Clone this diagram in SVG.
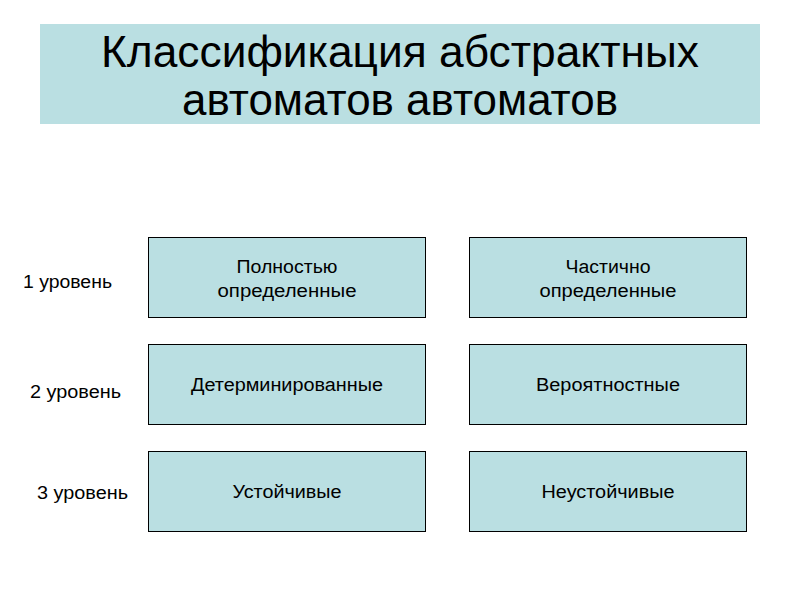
<svg xmlns="http://www.w3.org/2000/svg" width="800" height="600" viewBox="0 0 800 600">
<style>
.box{fill:#badfe2;stroke:#000;stroke-width:1}
.t{font-family:"Liberation Sans",Arial,sans-serif;font-size:18px;fill:#000;text-anchor:middle}
.lvl{font-family:"Liberation Sans",Arial,sans-serif;font-size:18px;fill:#000}
.title{font-family:"Liberation Sans",Arial,sans-serif;font-size:44px;fill:#000;text-anchor:middle}
</style>
<rect x="0" y="0" width="800" height="600" fill="#fff"/>
<g id="title">
<rect x="40" y="24" width="720" height="100" fill="#badfe2"/>
<text class="title" x="400" y="67" textLength="598" lengthAdjust="spacingAndGlyphs">Классификация абстрактных</text>
<text class="title" x="400" y="115" textLength="436" lengthAdjust="spacingAndGlyphs">автоматов автоматов</text>
</g>
<g id="labels">
<text class="lvl" x="23" y="288" textLength="89" lengthAdjust="spacingAndGlyphs">1 уровень</text>
<text class="lvl" x="30" y="398" textLength="91" lengthAdjust="spacingAndGlyphs">2 уровень</text>
<text class="lvl" x="37" y="499" textLength="91" lengthAdjust="spacingAndGlyphs">3 уровень</text>
</g>
<g id="n1"><rect class="box" x="148.5" y="237.5" width="277" height="80"/><text class="t" x="287" y="273" textLength="101" lengthAdjust="spacingAndGlyphs">Полностью</text><text class="t" x="287" y="297" textLength="139" lengthAdjust="spacingAndGlyphs">определенные</text></g>
<g id="n2"><rect class="box" x="469.5" y="237.5" width="277" height="80"/><text class="t" x="608" y="273" textLength="85" lengthAdjust="spacingAndGlyphs">Частично</text><text class="t" x="608" y="297" textLength="137" lengthAdjust="spacingAndGlyphs">определенные</text></g>
<g id="n3"><rect class="box" x="148.5" y="344.5" width="277" height="80"/><text class="t" x="287" y="391" textLength="192" lengthAdjust="spacingAndGlyphs">Детерминированные</text></g>
<g id="n4"><rect class="box" x="469.5" y="344.5" width="277" height="80"/><text class="t" x="608" y="391" textLength="144" lengthAdjust="spacingAndGlyphs">Вероятностные</text></g>
<g id="n5"><rect class="box" x="148.5" y="451.5" width="277" height="80"/><text class="t" x="287" y="498" textLength="109" lengthAdjust="spacingAndGlyphs">Устойчивые</text></g>
<g id="n6"><rect class="box" x="469.5" y="451.5" width="277" height="80"/><text class="t" x="608" y="498" textLength="133" lengthAdjust="spacingAndGlyphs">Неустойчивые</text></g>
<g id="connectors"></g>
</svg>
